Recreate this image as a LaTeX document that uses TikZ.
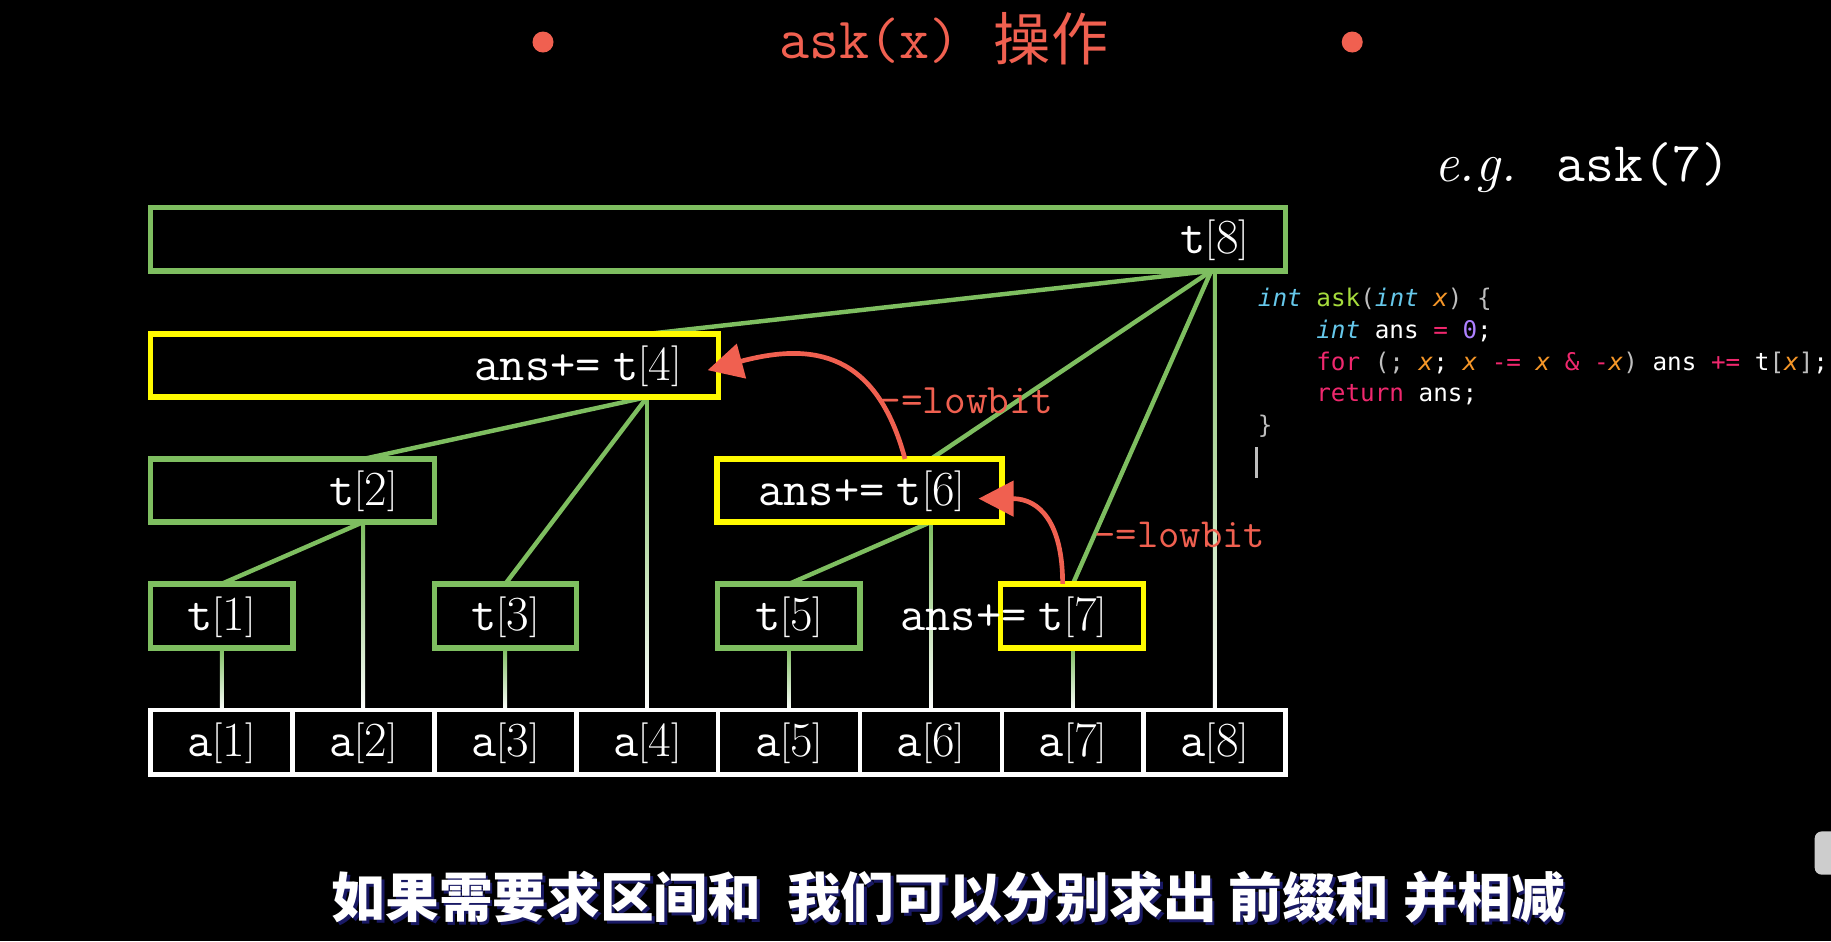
\documentclass[tikz,border=0pt]{standalone}
\usepackage{fontspec}
\usetikzlibrary{arrows.meta,calc}
\setmainfont{Latin Modern Roman}
\setmonofont{Latin Modern Mono}
\newfontfamily\cjk{Noto Sans CJK SC}
\newfontfamily\codefont{DejaVu Sans Mono}
\definecolor{boxgreen}{RGB}{126,190,96}
\definecolor{hlyellow}{RGB}{255,250,0}
\definecolor{salmon}{RGB}{240,96,80}
\definecolor{kwpink}{RGB}{240,40,110}
\definecolor{tycyan}{RGB}{102,200,235}
\definecolor{fngreen}{RGB}{166,220,60}
\definecolor{varorange}{RGB}{245,150,40}
\definecolor{numpurple}{RGB}{174,129,255}
\definecolor{punctgrey}{RGB}{190,190,190}
\definecolor{subnavy}{RGB}{25,25,100}
\definecolor{uigrey}{RGB}{205,205,205}
\newcommand{\mybrk}[1]{\raisebox{3pt}{\fontsize{35pt}{35pt}\selectfont #1}}
\newcommand{\mytlab}[1]{\texttt{t}\mybrk{[}#1\mybrk{]}}
\newcommand{\myalab}[1]{\texttt{a}\mybrk{[}#1\mybrk{]}}
\tikzset{
  tbox/.style={draw=boxgreen, line width=4.5pt, minimum height=54pt, inner sep=0pt, outer sep=0pt},
  ybox/.style={tbox, draw=hlyellow},
  abox/.style={draw=white, line width=4pt, minimum width=121.5pt, minimum height=55pt, inner sep=0pt, outer sep=0pt},
  lab/.style={text=white, font=\fontsize{42pt}{42pt}\selectfont, inner sep=0pt, anchor=base},
  anslab/.style={text=white, font=\ttfamily\fontsize{42pt}{42pt}\selectfont, inner sep=0pt, anchor=base east},
  conn/.style={draw=boxgreen, line width=3.8pt},
  vshade/.style={top color=boxgreen, bottom color=white},
  redarrow/.style={draw=salmon, line width=4pt, -{Triangle[length=30pt,width=30pt]}},
  redlab/.style={text=salmon, inner sep=0pt, anchor=base west},
  code/.style={anchor=base west, inner sep=0pt, text=white, font=\codefont\fontsize{20.8pt}{20.8pt}\selectfont},
  subt/.style={anchor=base, inner sep=0pt, font=\cjk\bfseries\fontsize{46pt}{46pt}\selectfont},
}
\begin{document}
\begin{tikzpicture}[x=1pt,y=1pt]
\path[use as bounding box, fill=black] (0,0) rectangle (1568,-806);

% title
\node[circle, fill=salmon, minimum size=18pt, inner sep=0pt] (bul1) at (465,-36) {};
\node[circle, fill=salmon, minimum size=18pt, inner sep=0pt] (bul2) at (1158,-36) {};
\node[anchor=base west, text=salmon, inner sep=0pt, font=\ttfamily\fontsize{50pt}{50pt}\selectfont] (title1) at (667,-50) {ask(x)};
\node[anchor=base west, text=salmon, inner sep=0pt, font=\cjk\fontsize{49pt}{49pt}\selectfont] (title2) at (851,-52) {操作};

% example
\node[anchor=base west, text=white, inner sep=0pt, font=\itshape\fontsize{47pt}{47pt}\selectfont] (eg) at (1228,-155) {e.g.};
\node[anchor=base west, text=white, inner sep=0pt, font=\ttfamily\fontsize{48pt}{48pt}\selectfont] (ask7) at (1333,-155) {ask(7)};

% boxes
\node[tbox, minimum width=972pt] (t8) at (615,-205) {};
\node[ybox, minimum width=486pt] (t4) at (372,-313) {};
\node[tbox, minimum width=243pt] (t2) at (250.5,-420) {};
\node[ybox, minimum width=244pt] (t6) at (736,-420) {};
\node[tbox, minimum width=122pt, minimum height=55pt] (t1) at (190,-527.5) {};
\node[tbox, minimum width=122pt, minimum height=55pt] (t3) at (433,-527.5) {};
\node[tbox, minimum width=122pt, minimum height=55pt] (t5) at (675.5,-527.5) {};
\node[ybox, minimum width=122pt, minimum height=55pt] (t7) at (918,-527.5) {};
\foreach \i in {1,...,8} {
  \node[abox] (a\i) at ({129+121.5*(\i-0.5)},-635.5) {};
}

% vertical connectors (green fading to white)
\shade[vshade] ([xshift=-1.5pt]a1.north |- t1.south) rectangle ([xshift=1.5pt]a1.north);
\shade[vshade] ([xshift=-1.5pt]a2.north |- t2.south) rectangle ([xshift=1.5pt]a2.north);
\shade[vshade] ([xshift=-1.5pt]a3.north |- t3.south) rectangle ([xshift=1.5pt]a3.north);
\shade[vshade] ([xshift=-1.5pt]a4.north |- t4.south) rectangle ([xshift=1.5pt]a4.north);
\shade[vshade] ([xshift=-1.5pt]a5.north |- t5.south) rectangle ([xshift=1.5pt]a5.north);
\shade[vshade] ([xshift=-1.5pt]a6.north |- t6.south) rectangle ([xshift=1.5pt]a6.north);
\shade[vshade] ([xshift=-1.5pt]a7.north |- t7.south) rectangle ([xshift=1.5pt]a7.north);
\shade[vshade] ([xshift=-1.5pt]a8.north |- t8.south) rectangle ([xshift=1.5pt]a8.north);

% diagonal connectors
\coordinate (hub8) at ([xshift=-3pt]a8.north |- t8.south);
\draw[conn] (hub8) -- (a4.north |- t4.north);
\draw[conn] (hub8) -- (a6.north |- t6.north);
\draw[conn] (hub8) -- (a7.north |- t7.north);
\draw[conn] (a4.north |- t4.south) -- (a2.north |- t2.north);
\draw[conn] (a4.north |- t4.south) -- (a3.north |- t3.north);
\draw[conn] (a2.north |- t2.south) -- (a1.north |- t1.north);
\draw[conn] (a6.north |- t6.south) -- (a5.north |- t5.north);

% redraw box borders on top of connector ends
\foreach \n/\c in {t8/boxgreen,t4/hlyellow,t2/boxgreen,t6/hlyellow,t1/boxgreen,t3/boxgreen,t5/boxgreen,t7/hlyellow} {
  \draw[\c, line width=4.5pt] (\n.south west) rectangle (\n.north east);
}
\foreach \i in {1,...,8} {
  \draw[white, line width=4pt] (a\i.south west) rectangle (a\i.north east);
}

% labels
\node[lab] (l8) at ([yshift=-12.5pt]a8.center |- t8.center) {\mytlab{8}};
\node[lab] (l4) at ([yshift=-12.5pt]a4.center |- t4.center) {\mytlab{4}};
\node[lab] (l2) at ([yshift=-12.5pt]a2.center |- t2.center) {\mytlab{2}};
\node[lab] (l6) at ([yshift=-12.5pt]a6.center |- t6.center) {\mytlab{6}};
\node[lab] (l1) at ([yshift=-12.5pt]a1.center |- t1.center) {\mytlab{1}};
\node[lab] (l3) at ([yshift=-12.5pt]a3.center |- t3.center) {\mytlab{3}};
\node[lab] (l5) at ([yshift=-12.5pt]a5.center |- t5.center) {\mytlab{5}};
\node[lab] (l7) at ([yshift=-12.5pt]a7.center |- t7.center) {\mytlab{7}};
\node[anslab] (ans4) at ([xshift=-10pt]l4.base west) {ans+=};
\node[anslab] (ans6) at ([xshift=-10pt]l6.base west) {ans+=};
\node[anslab] (ans7) at ([xshift=-10pt]l7.base west) {ans+=};
\foreach \i in {1,...,8} {
  \node[lab] (al\i) at ([yshift=-12.5pt]a\i.center) {\myalab{\i}};
}

% lowbit arrows
\draw[redarrow] ([xshift=39pt]t6.north) to[out=105,in=15,looseness=1.3] ([xshift=-9pt,yshift=-4pt]t4.east);
\draw[redarrow] ([xshift=-8pt]t7.north) to[out=90,in=0,looseness=1.3] ([xshift=-20pt,yshift=-7pt]t6.east);
\node[redlab, font=\ttfamily\fontsize{36pt}{36pt}\selectfont] (low1) at (753,-354) {-=lowbit};
\node[redlab, font=\ttfamily\fontsize{35.5pt}{35.5pt}\selectfont] (low2) at (937,-468.5) {-=lowbit};

% code
\node[code] (c1) at (1077,-262.5) {\textcolor{tycyan}{\itshape int} \textcolor{fngreen}{ask}\textcolor{punctgrey}{(}\textcolor{tycyan}{\itshape int} \textcolor{varorange}{\itshape x}\textcolor{punctgrey}{) \{}};
\node[code] (c2) at (1127,-289.8) {\textcolor{tycyan}{\itshape int} ans \textcolor{kwpink}{=} \textcolor{numpurple}{0};};
\node[code] (c3) at (1127,-317) {\textcolor{kwpink}{for} \textcolor{punctgrey}{(;} \textcolor{varorange}{\itshape x};\ \textcolor{varorange}{\itshape x} \textcolor{kwpink}{-=} \textcolor{varorange}{\itshape x} \textcolor{kwpink}{\& -}\textcolor{varorange}{\itshape x}\textcolor{punctgrey}{)} ans \textcolor{kwpink}{+=} t\textcolor{punctgrey}{[}\textcolor{varorange}{\itshape x}\textcolor{punctgrey}{]};};
\node[code] (c4) at (1127,-344.2) {\textcolor{kwpink}{return} ans;};
\node[code] (c5) at (1077,-371.5) {\textcolor{punctgrey}{\}}};
\draw[punctgrey, line width=2pt] (1076,-383) -- (1076,-409);

% subtitle
\node[subt, text=subnavy] (subshadow) at (814.5,-788.5) {如果需要求区间和\hspace{22pt}我们可以分别求出\hspace{10pt}前缀和\hspace{12pt}并相减};
\node[subt, text=white] (subtitle) at (812,-786) {如果需要求区间和\hspace{22pt}我们可以分别求出\hspace{10pt}前缀和\hspace{12pt}并相减};

% UI element at the right edge
\fill[uigrey, rounded corners=6pt] (1554,-712) rectangle (1582,-749);
\end{tikzpicture}
\end{document}
